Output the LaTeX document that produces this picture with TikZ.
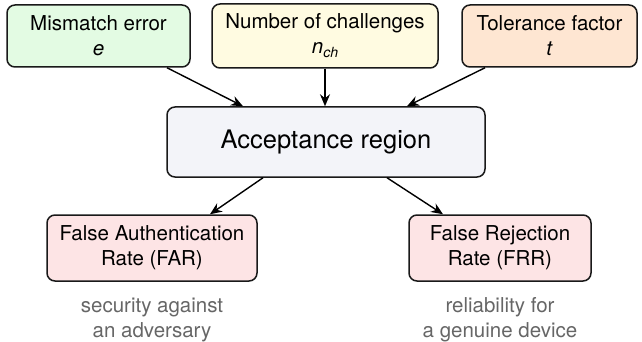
\documentclass[tikz,border=0pt]{standalone}
\usepackage{fontspec}
\setmainfont{TeX Gyre Heros}
\usetikzlibrary{arrows.meta,calc}
\definecolor{cgreen}{HTML}{E3FBE3}
\definecolor{cyellow}{HTML}{FFFBE1}
\definecolor{corange}{HTML}{FEE6D2}
\definecolor{ccentral}{HTML}{F3F4F9}
\definecolor{cpink}{HTML}{FDE4E5}
\definecolor{cgrey}{HTML}{666666}
\tikzset{
  box/.style={draw=black!90, line width=1.5pt, rounded corners=8pt, align=center,
    inner sep=0pt, font=\fontsize{20.5}{25}\selectfont},
  arr/.style={line width=1.4pt, -{Stealth[length=12pt,width=10pt,inset=4pt]}},
  note/.style={text=cgrey, align=center, inner sep=0pt, font=\fontsize{20.5}{25}\selectfont}
}
\begin{document}
\begin{tikzpicture}[x=1pt,y=-1pt]
\useasboundingbox (0,0) rectangle (642,342);
\node[box, fill=cgreen, minimum width=183pt, minimum height=62pt] (green) at (98.5,36)
  {Mismatch error\\\textit{e}};
\node[box, fill=cyellow, minimum width=226pt, minimum height=64pt] (yellow) at (325,36)
  {Number of challenges\\\textit{n}\raisebox{-4pt}{\fontsize{14}{14}\selectfont\itshape ch}};
\node[box, fill=corange, minimum width=175pt, minimum height=62pt] (orange) at (549.5,36)
  {Tolerance factor\\\textit{t}};
\node[box, fill=ccentral, minimum width=318pt, minimum height=70pt,
  font=\fontsize{25.5}{30}\selectfont] (central) at (326,142) {Acceptance region};
\node[box, fill=cpink, minimum width=210pt, minimum height=66pt] (far) at (152,248)
  {False Authentication\\Rate (FAR)};
\node[box, fill=cpink, minimum width=182pt, minimum height=66pt] (frr) at (500,248)
  {False Rejection\\Rate (FRR)};
\node[note, anchor=base] (farnote) at (152,337) {security against\\an adversary};
\node[note, anchor=base] (frrnote) at (500,337) {reliability for\\a genuine device};
\draw[arr] ($(green.south)+(68.5,0)$) -- ($(central.north)+(-83,0)$);
\draw[arr] (yellow.south) -- ($(central.north)+(-1,0)$);
\draw[arr] ($(orange.south)+(-64.5,0)$) -- ($(central.north)+(81,0)$);
\draw[arr] ($(central.south)+(-63,0)$) -- ($(far.north)+(58,0)$);
\draw[arr] ($(central.south)+(61,0)$) -- ($(frr.north)+(-57,0)$);
\end{tikzpicture}
\end{document}
